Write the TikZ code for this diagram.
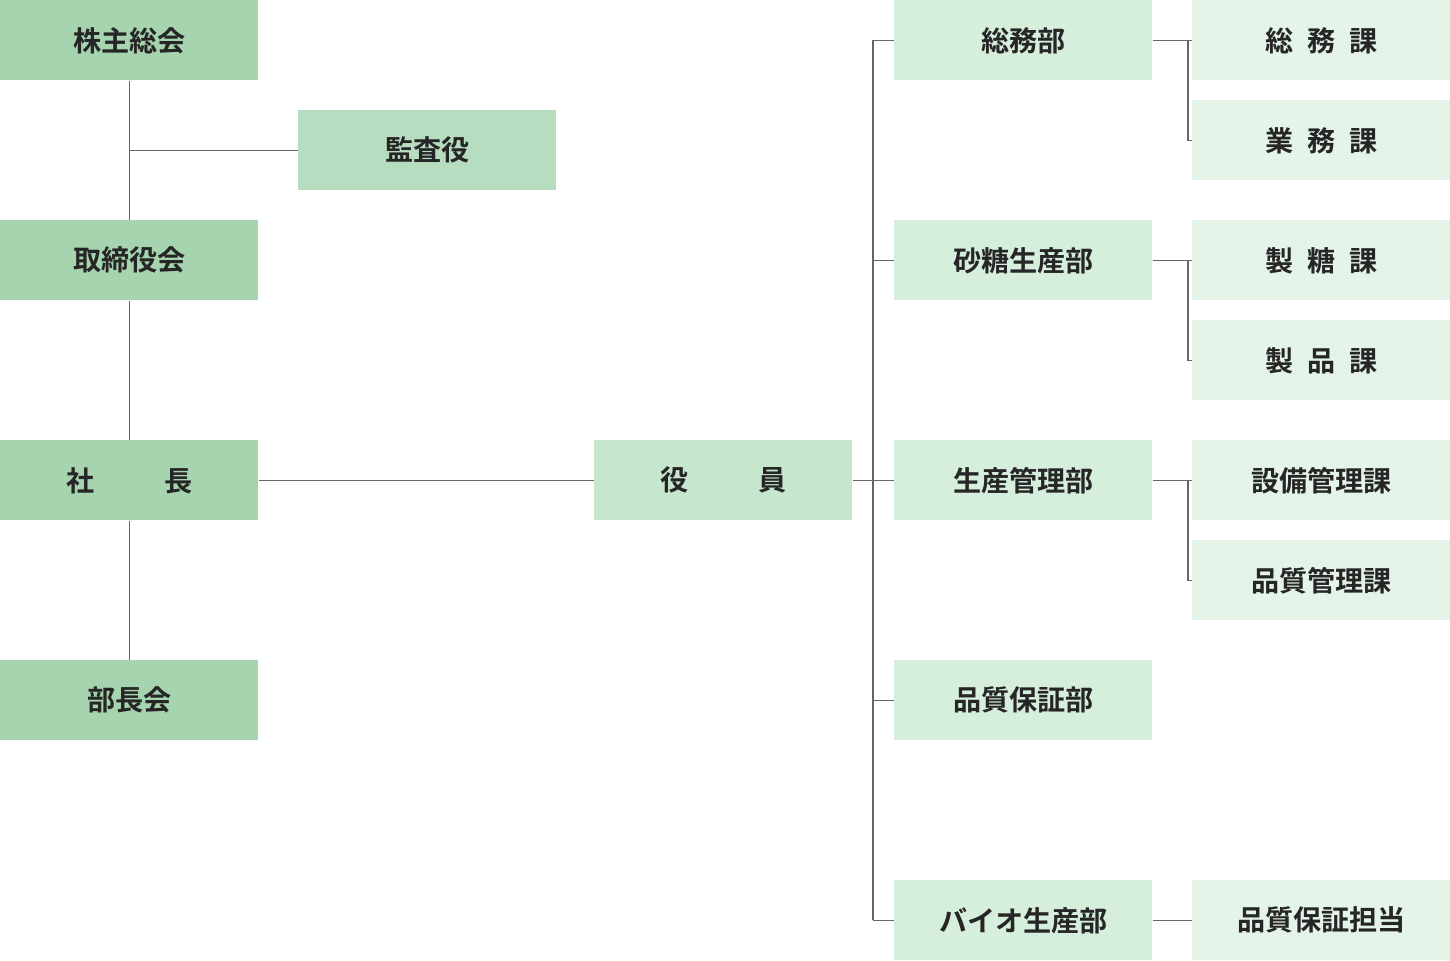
\documentclass[tikz,border=0pt]{standalone}
\usepackage{fontspec}
\setmainfont{Noto Sans CJK JP Bold}
\definecolor{gA}{HTML}{A6D4AF}
\definecolor{gB}{HTML}{B6DDBF}
\definecolor{gC}{HTML}{C6E6CE}
\definecolor{gD}{HTML}{D6EEDC}
\definecolor{gE}{HTML}{E4F4E8}
\definecolor{ln}{HTML}{666666}
\begin{document}
\begin{tikzpicture}[x=0.02cm,y=-0.02cm,
    box/.style={minimum width=5.16cm,minimum height=1.6cm,inner sep=0pt,anchor=north west,
      font=\fontsize{16}{16}\selectfont,text=black!85},
    conn/.style={draw=ln,line width=0.8pt}]
    \useasboundingbox (0,0) rectangle (1450,960);

    % 左側
    \node[box,fill=gA] (kabu) at (0,0) {株主総会};
    \node[box,fill=gB] (kansa) at (298,110) {監査役};
    \node[box,fill=gA] (tori) at (0,220) {取締役会};
    \node[box,fill=gA] (shacho) at (0,440) {社\hspace{2.5em}長};
    \node[box,fill=gA] (bucho) at (0,660) {部長会};
    \node[box,fill=gC] (yakuin) at (594,440) {役\hspace{2.5em}員};

    % 部
    \foreach \n/\t/\y in {somu/総務部/0,sato/砂糖生産部/220,seikan/生産管理部/440,hinsho/品質保証部/660,bio/バイオ生産部/880}
        \node[box,fill=gD] (\n) at (894,\y) {\t};

    % 課
    \foreach \n/\t/\y in {ka1/総\hspace{0.5em}務\hspace{0.5em}課/0,ka2/業\hspace{0.5em}務\hspace{0.5em}課/100,
        ka3/製\hspace{0.5em}糖\hspace{0.5em}課/220,ka4/製\hspace{0.5em}品\hspace{0.5em}課/320,
        ka5/設備管理課/440,ka6/品質管理課/540,ka7/品質保証担当/880}
        \node[box,fill=gE] (\n) at (1192,\y) {\t};

    % 線
    \draw[conn] (kabu.south) -- (tori.north);
    \draw[conn] (tori.south) -- (shacho.north);
    \draw[conn] (shacho.south) -- (bucho.north);
    \draw[conn] (kansa.west) -- (kansa.west -| kabu.south);
    \draw[conn] (shacho.east) -- (yakuin.west);
    \coordinate (top) at (873,40);
    \coordinate (bot) at (873,920);
    \draw[conn] (top) -- (bot);
    \draw[conn] (yakuin.east) -- (yakuin.east -| top);
    \foreach \n in {somu,sato,seikan,hinsho,bio}
        \draw[conn] (\n.west) -- (\n.west -| top);
    \foreach \a/\b/\c in {somu/ka1/ka2,sato/ka3/ka4,seikan/ka5/ka6}{
        \draw[conn] (\a.east) -- (\b.west);
        \draw[conn] ([xshift=20]\a.east) |- (\c.west);
    }
    \draw[conn] (bio.east) -- (ka7.west);
\end{tikzpicture}
\end{document}
